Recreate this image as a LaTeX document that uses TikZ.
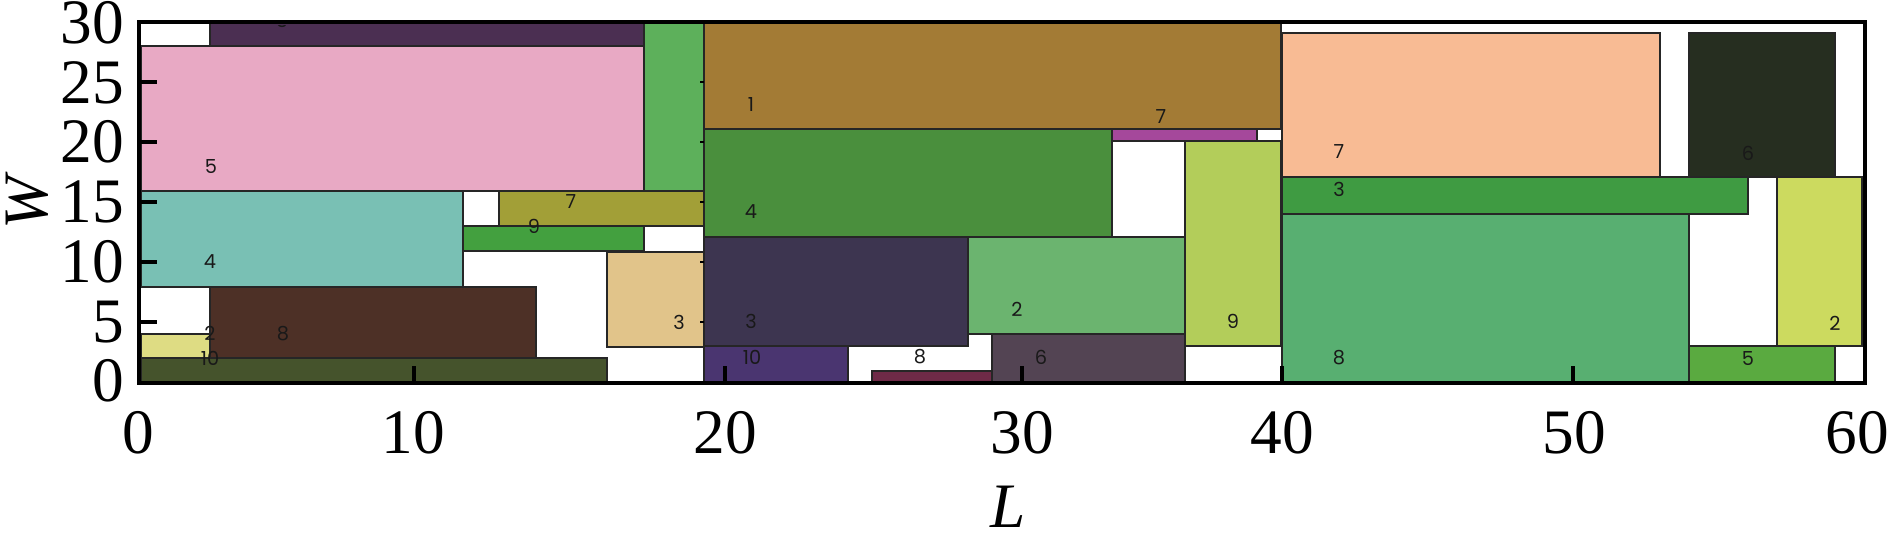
\documentclass[tikz,border=0pt]{standalone}
\usepackage{fontspec}
\setmainfont{Liberation Serif}
\newfontfamily\tagfont{Poppins}
\usepackage{tikz}
\usepackage{xcolor}

% colours of the pieces
\definecolor{plum}{HTML}{4B2F52}
\definecolor{rose}{HTML}{E8A9C4}
\definecolor{leaf}{HTML}{5DB05B}
\definecolor{teal}{HTML}{79C0B4}
\definecolor{olive}{HTML}{A29F37}
\definecolor{grass}{HTML}{43A03F}
\definecolor{sand}{HTML}{E1C48A}
\definecolor{cocoa}{HTML}{4D3026}
\definecolor{straw}{HTML}{DEDC83}
\definecolor{moss}{HTML}{45532C}
\definecolor{ochre}{HTML}{A37B35}
\definecolor{fern}{HTML}{4A8F3D}
\definecolor{orchid}{HTML}{A5489B}
\definecolor{lime}{HTML}{B3CD5A}
\definecolor{slate}{HTML}{3D3550}
\definecolor{mint}{HTML}{6BB46F}
\definecolor{indigo}{HTML}{4A3570}
\definecolor{wine}{HTML}{6E2A47}
\definecolor{mauve}{HTML}{534453}
\definecolor{peach}{HTML}{F8BB94}
\definecolor{forest}{HTML}{262E20}
\definecolor{clover}{HTML}{3F9B42}
\definecolor{jade}{HTML}{58AF71}
\definecolor{citron}{HTML}{CCDA5F}
\definecolor{sprout}{HTML}{5AAA40}

\begin{document}
\begin{tikzpicture}[x=0.01cm, y=-0.01cm,
  piece/.style={draw=black!85, line width=0.45pt},
  tag/.style={inner sep=0pt, text=black!90, font=\tagfont\fontsize{5.5}{6}\selectfont},
  ticklabel/.style={inner sep=0pt, font=\fontsize{18}{20}\selectfont},
  frame/.style={line width=1.2pt},
  tick/.style={line width=1.2pt},
  minortick/.style={line width=0.4pt}]

\useasboundingbox (0,0) rectangle (1888,538);

% first bin
\filldraw [piece, fill=plum] (210,22) rectangle (644,46);
\filldraw [piece, fill=rose] (141,46) rectangle (644,191);
\filldraw [piece, fill=leaf] (644,22) rectangle (704,191);
\filldraw [piece, fill=teal] (141,191) rectangle (463,287);
\filldraw [piece, fill=olive] (499,191) rectangle (704,226);
\filldraw [piece, fill=grass] (463,226) rectangle (644,251);
\filldraw [piece, fill=sand] (607,252) rectangle (704,347);
\filldraw [piece, fill=cocoa] (210,287) rectangle (536,358);
\filldraw [piece, fill=straw] (141,334) rectangle (210,358);
\filldraw [piece, fill=moss] (141,358) rectangle (607,382);

\begin{scope}
\clip (141,25) rectangle (704,381);
\node [tag] (ta3) at (282,20) {3};
\end{scope}
\node [tag] (ta5) at (211,167) {5};
\node [tag] (ta4) at (210,262) {4};
\node [tag] (ta7) at (571,202) {7};
\node [tag] (ta9) at (534,226) {9};
\node [tag] (tb3) at (679,322) {3};
\node [tag] (ta8) at (283,334) {8};
\node [tag] (ta2) at (210,333) {2};
\node [tag] (ta10) at (210,358) {10};

% second bin
\filldraw [piece, fill=ochre] (704,22) rectangle (1281,129);
\filldraw [piece, fill=fern] (704,129) rectangle (1112,237);
\filldraw [piece, fill=orchid] (1112,129) rectangle (1257,141);
\filldraw [piece, fill=lime] (1185,141) rectangle (1281,346);
\filldraw [piece, fill=slate] (704,237) rectangle (968,346);
\filldraw [piece, fill=mint] (968,237) rectangle (1185,334);
\filldraw [piece, fill=indigo] (704,346) rectangle (848,382);
\filldraw [piece, fill=wine] (872,371) rectangle (992,382);
\filldraw [piece, fill=mauve] (992,334) rectangle (1185,382);

\node [tag] (tc1) at (751,104) {1};
\node [tag] (tc4) at (751,212) {4};
\node [tag] (tc7) at (1161,117) {7};
\node [tag] (tc9) at (1233,321) {9};
\node [tag] (tc3) at (751,321) {3};
\node [tag] (tc2) at (1017,309) {2};
\node [tag] (tc10) at (752,357) {10};
\node [tag] (tc8) at (920,357) {8};
\node [tag] (tc6) at (1041,357) {6};

% third bin
\filldraw [piece, fill=peach] (1282,33) rectangle (1660,177);
\filldraw [piece, fill=forest] (1689,33) rectangle (1835,177);
\filldraw [piece, fill=clover] (1282,177) rectangle (1748,214);
\filldraw [piece, fill=jade] (1282,214) rectangle (1689,382);
\filldraw [piece, fill=citron] (1777,177) rectangle (1862,346);
\filldraw [piece, fill=sprout] (1689,346) rectangle (1835,382);

\node [tag] (td7) at (1339,152) {7};
\node [tag] (td6) at (1748,153) {6};
\node [tag] (td3) at (1339,189) {3};
\node [tag] (td8) at (1339,358) {8};
\node [tag] (td2) at (1835,323) {2};
\node [tag] (td5) at (1748,358) {5};

% small ticks on the bin border
\draw [minortick] (700,82) -- (704,82);
\draw [minortick] (700,142) -- (704,142);
\draw [minortick] (700,202) -- (704,202);
\draw [minortick] (700,262) -- (704,262);
\draw [minortick] (700,322) -- (704,322);

% frame and ticks
\draw [frame] (139,22) rectangle (1865,383);
\draw [tick] (414,383) -- (414,366);
\draw [tick] (725,383) -- (725,366);
\draw [tick] (1022,383) -- (1022,366);
\draw [tick] (1282,383) -- (1282,366);
\draw [tick] (1573,383) -- (1573,366);
\draw [tick] (139,82) -- (157,82);
\draw [tick] (139,142) -- (157,142);
\draw [tick] (139,202) -- (157,202);
\draw [tick] (139,262) -- (157,262);
\draw [tick] (139,322) -- (157,322);

% tick labels
\node [ticklabel, anchor=base] (x0) at (138,453) {0};
\node [ticklabel, anchor=base] (x10) at (413,453) {10};
\node [ticklabel, anchor=base] (x20) at (725,453) {20};
\node [ticklabel, anchor=base] (x30) at (1022,453) {30};
\node [ticklabel, anchor=base] (x40) at (1282,453) {40};
\node [ticklabel, anchor=base] (x50) at (1574,453) {50};
\node [ticklabel, anchor=base] (x60) at (1857,453) {60};

\node [ticklabel, anchor=east] (y0) at (125,381) {0};
\node [ticklabel, anchor=east] (y5) at (125,322) {5};
\node [ticklabel, anchor=east] (y10) at (125,262) {10};
\node [ticklabel, anchor=east] (y15) at (125,202) {15};
\node [ticklabel, anchor=east] (y20) at (125,142) {20};
\node [ticklabel, anchor=east] (y25) at (125,83) {25};
\node [ticklabel, anchor=east] (y30) at (125,23) {30};

% axis names
\node [ticklabel, rotate=90] (wlab) at (27,203) {\itshape W};
\node [ticklabel, anchor=base] (llab) at (1008,527) {\itshape L};

\end{tikzpicture}
\end{document}
